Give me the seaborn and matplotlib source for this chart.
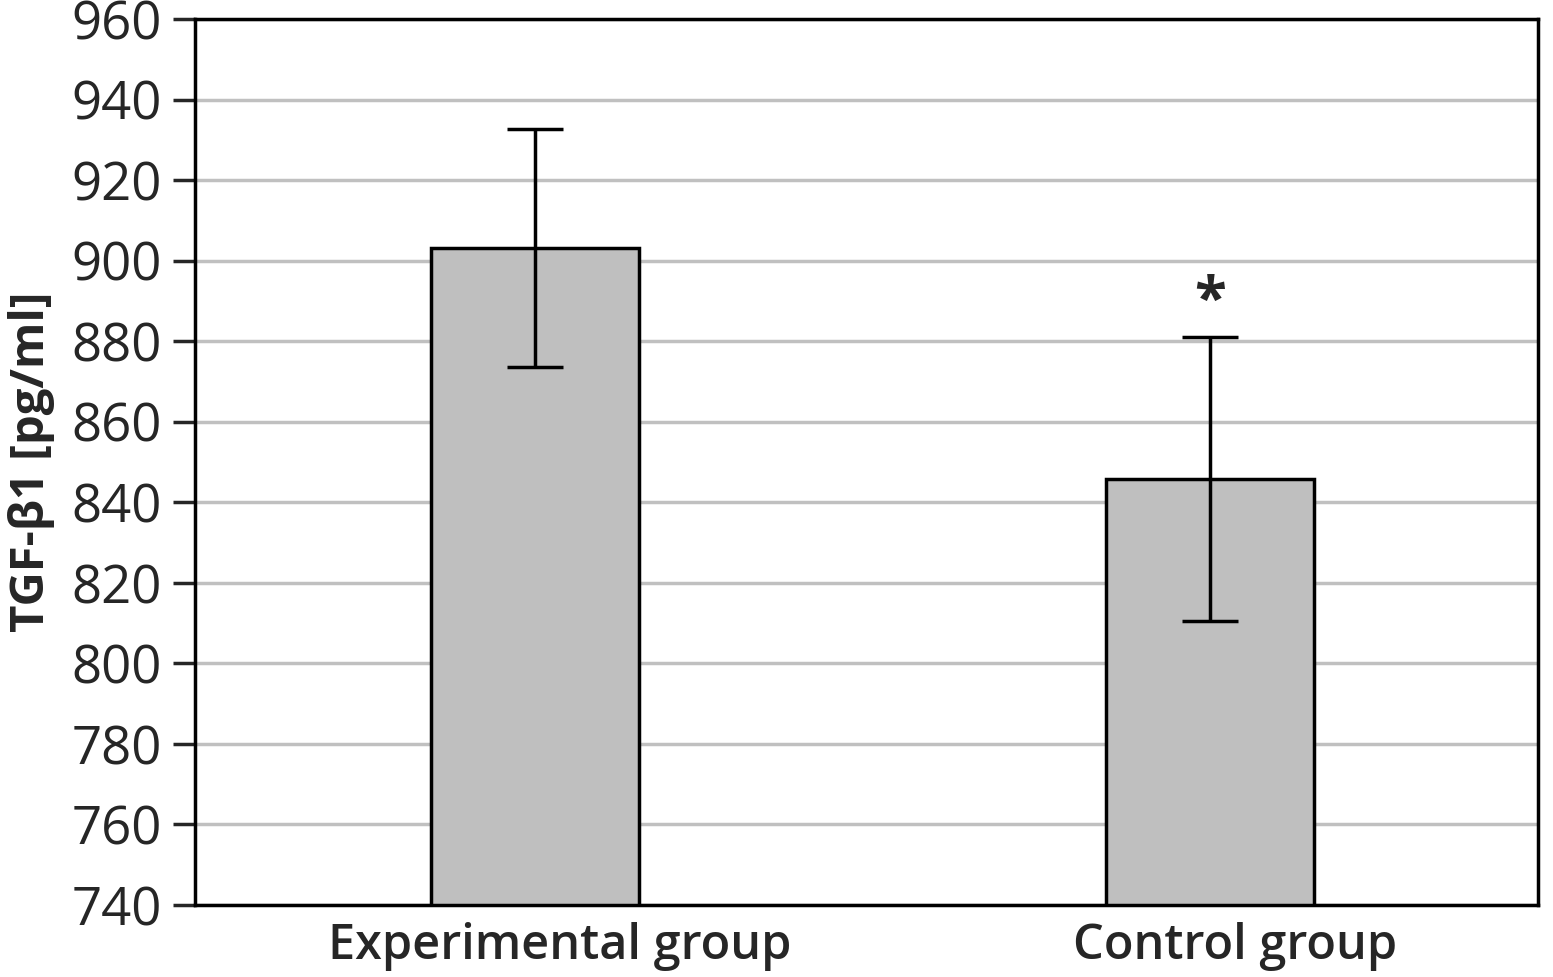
"""Recreate TGF-beta1 bar chart comparing experimental and control groups."""

import matplotlib
matplotlib.use("Agg")
import matplotlib.pyplot as plt
import matplotlib.transforms as mtransforms
import pandas as pd
import seaborn as sns

groups = ["Experimental group", "Control group"]
means = [903.2, 845.8]
errors = [29.6, 35.2]


def main() -> None:
    sns.set_style("white")
    plt.rcParams["font.family"] = ["Open Sans", "DejaVu Sans"]

    df = pd.DataFrame({"group": groups, "value": means})
    fig = plt.figure(figsize=(15.53, 9.77), dpi=100)
    ax = fig.add_axes([195 / 1553, 1 - 905 / 977, 1343 / 1553, 886 / 977])

    ax.yaxis.grid(True, color="#c0c0c0", linewidth=2.5, zorder=0)
    ax.set_axisbelow(True)
    sns.barplot(data=df, x="group", y="value", color="#bfbfbf", width=0.308,
                edgecolor="black", linewidth=2.5, saturation=1, ax=ax, zorder=2)
    ax.errorbar(range(len(groups)), means, yerr=errors, fmt="none",
                ecolor="black", elinewidth=2.5, capsize=20, capthick=2.5, zorder=3)
    ax.text(1, means[1] + errors[1] + 8.5, "*", ha="center", va="center",
            fontsize=42, fontweight="bold")

    ax.set_ylim(740, 960)
    ax.set_xlim(-0.503, 1.485)
    ax.set_yticks(range(740, 961, 20))
    ax.tick_params(axis="y", which="major", direction="out", length=16, width=2.5,
                   labelsize=38, left=True, pad=8)
    ax.tick_params(axis="x", length=0, labelsize=35, pad=12)
    shift = mtransforms.ScaledTranslation(0.25, 0, fig.dpi_scale_trans)
    for lbl in ax.get_xticklabels():
        lbl.set_fontweight("semibold")
        lbl.set_transform(lbl.get_transform() + shift)
    for spine in ax.spines.values():
        spine.set_linewidth(2.5)
        spine.set_color("black")
    ax.set_xlabel("")
    ax.set_ylabel("TGF-β1 [pg/ml]", fontsize=34, fontweight="bold", labelpad=12)

    fig.savefig("out.png", dpi=100)
    plt.close(fig)


if __name__ == "__main__":
    main()
